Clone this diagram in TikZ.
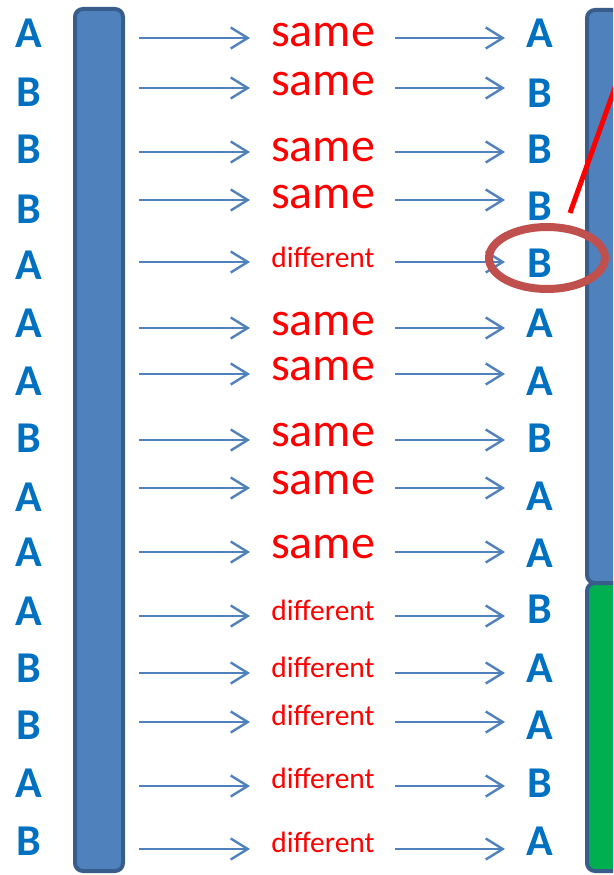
\documentclass[tikz,border=0pt]{standalone}
\usepackage{fontspec}
\newfontfamily\calib{Carlito}
\usetikzlibrary{arrows.meta}
\definecolor{barfill}{HTML}{4F81BD}
\definecolor{barline}{HTML}{385D8A}
\definecolor{letterblue}{HTML}{0070C0}
\definecolor{arrowblue}{HTML}{4F81BD}
\definecolor{markred}{HTML}{C0504D}
\definecolor{boxgreen}{HTML}{00B050}
\tikzset{
  letter/.style={anchor=base, inner sep=0pt, text=letterblue,
    font=\calib\bfseries\fontsize{44}{44}\selectfont},
  word/.style={anchor=base, inner sep=0pt, text=red},
  flow/.style={draw=arrowblue, line width=2.4pt,
    -{Straight Barb[length=17pt,width=21pt,line width=2.4pt]}},
  column/.style={draw=barline, line width=4pt, rounded corners=8pt},
}
\begin{document}
\begin{tikzpicture}[x=1pt, y=-1pt]
\useasboundingbox (0,0) rectangle (613,875);
\clip (0,0) rectangle (613,875);

% input and output columns
\draw[column, fill=barfill] (75,9) rectangle (123,871);
\draw[column, fill=barfill] (587,10) rectangle (660,583);
\draw[column, fill=boxgreen] (587,583) rectangle (660,871);

% rows: left letter / baseline / arrow y / word / size / word baseline / right letter / baseline
\foreach \i/\L/\lb/\ay/\M/\fs/\mb/\R/\rb in {
  1/A/48/38/same/48/47/A/48,
  2/B/106/88/same/48/95/B/107,
  3/B/163/152/same/48/161/B/163,
  4/B/223/200/same/48/208/B/220,
  5/A/279/262/different/29.5/267/B/277,
  6/A/337/328/same/48/335/A/337,
  7/A/395/374/same/48/380/A/395,
  8/B/452/440/same/48/446/B/452,
  9/A/511/488/same/48/494/A/510,
  10/A/566/552/same/48/558/A/567,
  11/A/625/616/different/29.5/620/B/623,
  12/B/682/673/different/29.5/677/A/682,
  13/B/739/722/different/29.5/725/A/739,
  14/A/797/786/different/29.5/788/B/797,
  15/B/855/849/different/29.5/852/A/855}{
  \node[letter] (in\i) at (29,\lb) {\L};
  \node[word, font=\calib\fontsize{\fs}{\fs}\selectfont] (mid\i) at (323,\mb) {\M};
  \node[letter] (out\i) at (540,\rb) {\R};
  \coordinate (a\i) at (139,\ay);
  \coordinate (b\i) at (250,\ay);
  \coordinate (c\i) at (395,\ay);
  \coordinate (d\i) at (505,\ay);
  \draw[flow] (a\i) -- (b\i);
  \draw[flow] (c\i) -- (d\i);
}

% highlighted mismatch and pointer
\draw[markred, line width=8pt] (547,258) ellipse [x radius=58pt, y radius=31pt];
\coordinate (p0) at (570,213);
\coordinate (p1) at (622,68);
\draw[red, line width=5pt] (p0) -- (p1);
\end{tikzpicture}
\end{document}
